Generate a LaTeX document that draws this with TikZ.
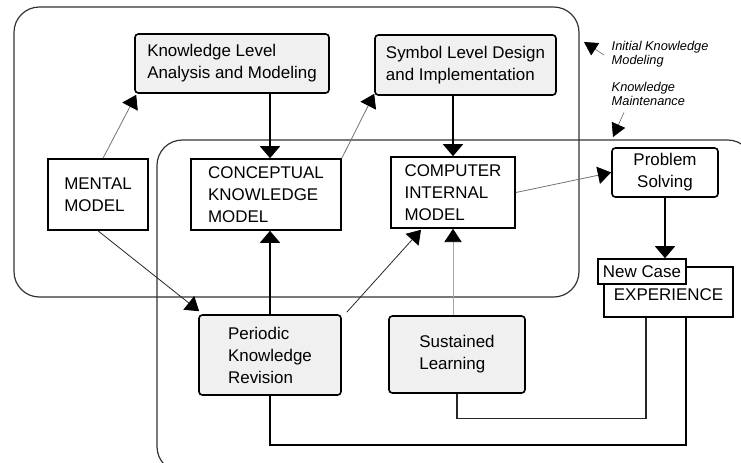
\documentclass[tikz,border=0pt]{standalone}
\usepackage{fontspec}
\setmainfont{Liberation Sans}
\usetikzlibrary{positioning, arrows.meta, calc}

\begin{document}
\begin{tikzpicture}[
    x=0.75pt, y=-0.75pt,
    every node/.style={font=\fontsize{12.7}{16.5}\selectfont},
    plain/.style={
        rectangle,
        draw=black,
        fill=white,
        align=left,
        line width=1.2pt
    },
    stage/.style={
        plain,
        fill=gray!12,
        rounded corners=2.5pt
    },
    region/.style={
        draw=black!80,
        line width=0.9pt,
        rounded corners=19pt
    },
    heavy/.style={
        -{Triangle[length=9pt, width=15pt]},
        line width=1.2pt,
        color=black
    },
    light/.style={
        -{Triangle[length=10pt, width=13pt, color=black]},
        line width=0.6pt,
        draw=black!55
    },
    note/.style={
        font=\fontsize{9.6}{10.5}\selectfont\itshape,
        align=left,
        anchor=west
    },
    notearrow/.style={
        -{Triangle[length=10pt, width=11pt, color=black]},
        line width=0.5pt,
        draw=black!55
    }
]

\useasboundingbox (0,0) rectangle (741,462);
\clip (0,0) rectangle (741,462);

% Regions
\draw[region] (14,7) rectangle (579,297);
\draw[region] (157,140) rectangle (753,472);

% Upper stages
\node[stage, minimum width=145.5pt, minimum height=44.25pt] (klevel) at (232,63.5)
    {Knowledge Level\\Analysis and Modeling};
\node[stage, minimum width=135.75pt, minimum height=45pt] (slevel) at (465.5,65)
    {Symbol Level Design\\and Implementation};

% Models
\node[plain, minimum width=75pt, minimum height=53.25pt] (mental) at (98,194.5)
    {MENTAL\\MODEL};
\node[plain, minimum width=112.5pt, minimum height=53.25pt] (concept) at (266,194.5)
    {CONCEPTUAL\\KNOWLEDGE\\MODEL};
\node[plain, minimum width=93pt, minimum height=53.25pt] (computer) at (453,192.5)
    {COMPUTER\\INTERNAL\\MODEL};

% Problem solving and experience
\node[plain, align=center, rounded corners=2.5pt, minimum width=79.5pt, minimum height=36.75pt] (problem) at (665,172.5)
    {Problem\\Solving};
\node[plain, minimum width=96.75pt, minimum height=37.5pt, text height=13.6pt] (exp) at (668.5,292)
    {EXPERIENCE};
\node[plain, inner sep=1pt, minimum width=66pt, minimum height=18.75pt] (newcase) at (642,271.5)
    {New Case};

% Lower stages
\node[stage, minimum width=106.5pt, minimum height=60pt] (periodic) at (270,355)
    {Periodic\\Knowledge\\Revision};
\node[stage, minimum width=102pt, minimum height=57.75pt] (sustained) at (457,354.5)
    {Sustained\\Learning};

% Region notes
\node[note] (initlbl) at (607,54) {Initial Knowledge\\Modeling};
\node[note] (maintlbl) at (607,94) {Knowledge\\Maintenance};
\coordinate (initpt) at (584,42);
\coordinate (maintpt) at (613,137);
\draw[notearrow] ($(initlbl.west)+(-3,1)$) -- (initpt);
\draw[notearrow] ($(maintlbl.south west)+(17,2)$) -- (maintpt);

% Main flow
\draw[light] ($(mental.north)+(5,0)$) -- ($(klevel.south west)+(2,1)$);
\draw[heavy] (klevel.south -| periodic.north) -- (concept.north -| periodic.north);
\draw[light] (concept.north east) -- ($(slevel.south west)+(0,-2)$);
\draw[heavy] (slevel.south -| computer.north) -- (computer.north);
\draw[light] (computer.east) -- (problem.west);
\draw[heavy] (problem.south) -- (problem.south |- newcase.north);

% Maintenance flow
\draw[light, draw=black!85] (mental.south) -- ($(periodic.north west)+(1,-3)$);
\draw[heavy] (periodic.north) -- (periodic.north |- concept.south);
\coordinate (cibase) at ($(computer.south)+(-32,1)$);
\draw[light, draw=black!85] ($(periodic.north east)+(5,-2)$) -- (cibase);
\draw[light, draw=black!35] (sustained.north -| computer.south) -- (computer.south);

% Feedback from experience
\draw[line width=0.9pt, draw=black!85] ($(exp.south)+(-22.5,0)$) |- ($(sustained.south)+(0,25)$) -- (sustained.south);
\draw[line width=1.2pt] ($(exp.south)+(17.5,0)$) |- ($(periodic.south)+(0,49)$) -- (periodic.south);

\end{tikzpicture}
\end{document}
